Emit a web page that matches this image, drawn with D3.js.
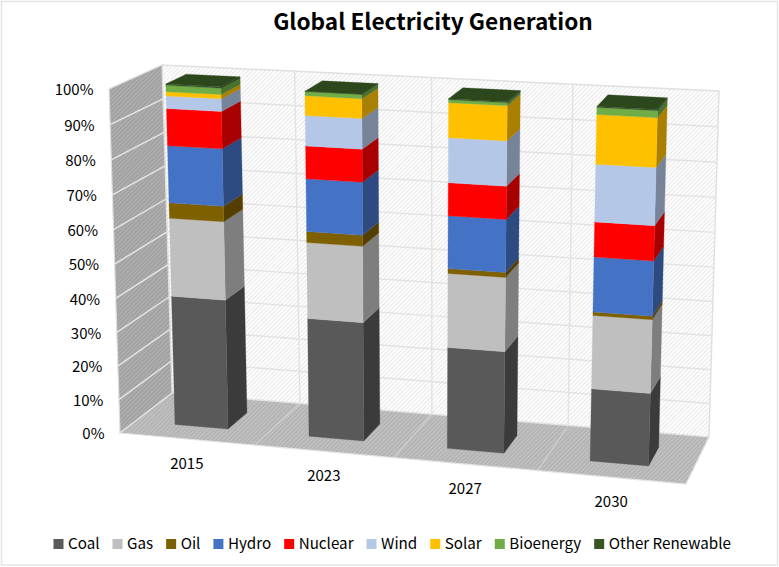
<!DOCTYPE html>
<html>
<head>
<meta charset="utf-8">
<script src="https://cdn.jsdelivr.net/npm/d3@7/dist/d3.min.js"></script>
<style>
  html, body { margin: 0; padding: 0; background: #fff; }
  svg { display: block; }
  text { font-family: "Noto Sans CJK SC", "Noto Sans", sans-serif; fill: #000; }
</style>
</head>
<body>
<svg id="chart" width="779" height="567"></svg>
<script>
// Share of global electricity generation by source, in percent.
const years = ["2015", "2023", "2027", "2030"];
const sources = ["Coal", "Gas", "Oil", "Hydro", "Nuclear", "Wind", "Solar", "Bioenergy", "Other Renewable"];
const coal = [38.5, 34.9, 29.6, 20.9];
const gas = [22.9, 22.1, 21.3, 21.0];
const oil = [4.5, 3.2, 1.4, 1.0];
const hydro = [16.5, 15.1, 15.0, 15.5];
const nuclear = [10.6, 9.3, 9.3, 9.8];
const wind = [3.6, 8.6, 12.6, 16.0];
const solar = [1.2, 5.5, 9.7, 13.6];
const bioenergy = [1.8, 1.2, 0.8, 1.9];
const otherRenewable = [0.4, 0.1, 0.3, 0.3];
const percentTicks = [0, 10, 20, 30, 40, 50, 60, 70, 80, 90, 100];

const seriesValues = [coal, gas, oil, hydro, nuclear, wind, solar, bioenergy, otherRenewable];
const palette = ["#595959", "#bfbfbf", "#7f6000", "#4472c4", "#ff0000", "#b4c7e7", "#ffc000", "#70ad47", "#375623"];

const rows = years.map((year, i) => {
  const row = { year };
  sources.forEach((s, k) => { row[s] = seriesValues[k][i]; });
  return row;
});
const stacked = d3.stack().keys(sources)(rows);

// Corners of the plot box as drawn on the page: [front, back] x [left, right] x [bottom, top].
const box = {
  front: { lb: [120, 433], rb: [686, 484], lt: [109, 89], rt: [697, 121] },
  back:  { lb: [172, 393], rb: [709, 437], lt: [162, 65], rt: [719, 91] }
};

// Logical axes, each mapped onto the unit interval of the box.
const xBand = d3.scaleBand().domain(years).range([0, 1]).paddingInner(0.6).paddingOuter(0.3);
const yScale = d3.scaleLinear().domain([0, 100]).range([0, 1]);
const barDepth = [0.3, 0.7];

// Perspective: equal steps widen towards the right of the box and towards its top.
const foreshorten = (a) => (t) => a * t / (1 + (a - 1) * t);
const warpX = foreshorten(0.938);
const warpY = foreshorten(0.965);

const lerp = (a, b, t) => [a[0] + (b[0] - a[0]) * t, a[1] + (b[1] - a[1]) * t];
function project(u, v, w) {
  const ux = warpX(u), vy = warpY(v);
  const plane = (p) => lerp(lerp(p.lb, p.rb, ux), lerp(p.lt, p.rt, ux), vy);
  return lerp(plane(box.front), plane(box.back), w);
}
const poly = (pts) => "M" + pts.map(p => p[0].toFixed(2) + "," + p[1].toFixed(2)).join("L") + "Z";

const svg = d3.select("#chart");
const defs = svg.append("defs");

// Fine diagonal hatches used on the walls and the floor.
function hatch(id, bg, fg, width) {
  const p = defs.append("pattern").attr("id", id).attr("patternUnits", "userSpaceOnUse")
    .attr("width", 3).attr("height", 3).attr("patternTransform", "rotate(-45)");
  p.append("rect").attr("width", 3).attr("height", 3).attr("fill", bg);
  p.append("rect").attr("width", 3).attr("height", width).attr("fill", fg);
}
hatch("hatchBack", "#ffffff", "#e6e6e6", 1);
hatch("hatchSide", "#a2a2a2", "#b2b2b2", 1);
hatch("hatchFloor", "#b4b4b4", "#c4c4c4", 1);

// Outer frame of the chart area.
svg.append("rect").attr("x", 1.5).attr("y", 1.5).attr("width", 776).attr("height", 563.5)
  .attr("fill", "#fff").attr("stroke", "#e4e4e4").attr("stroke-width", 1.5);

// Walls and floor.
svg.append("path").attr("d", poly([project(0,0,1), project(1,0,1), project(1,1,1), project(0,1,1)]))
  .attr("fill", "url(#hatchBack)").attr("stroke", "#e0e0e0").attr("stroke-width", 1.5);
svg.append("path").attr("d", poly([project(0,0,0), project(0,0,1), project(0,1,1), project(0,1,0)]))
  .attr("fill", "url(#hatchSide)").attr("stroke", "#e0e0e0").attr("stroke-width", 1.2);
svg.append("path").attr("d", poly([project(0,0,0), project(1,0,0), project(1,0,1), project(0,0,1)]))
  .attr("fill", "url(#hatchFloor)").attr("stroke", "#e4e4e4").attr("stroke-width", 1.2);

// Gridlines: percent levels along the side and back walls, category bounds along the back wall and floor.
const grid = svg.append("g").attr("fill", "none");
percentTicks.slice(1, -1).forEach(t => {
  const v = yScale(t);
  grid.append("path").attr("d", d3.line()([project(0,v,1), project(1,v,1)]))
    .attr("stroke", "#e2e2e2").attr("stroke-width", 1.4);
  grid.append("path").attr("d", d3.line()([project(0,v,0), project(0,v,1)]))
    .attr("stroke", "#e6e6e6").attr("stroke-width", 1.4);
});
d3.range(1, years.length).forEach(i => {
  const u = i / years.length;
  grid.append("path").attr("d", d3.line()([project(u,0,1), project(u,1,1)]))
    .attr("stroke", "#e2e2e2").attr("stroke-width", 1.4);
  grid.append("path").attr("d", d3.line()([project(u,0,0), project(u,0,1)]))
    .attr("stroke", "#d0d0d0").attr("stroke-width", 1.2);
});

// Shades of a colour for the faces turned away from the viewer.
const shade = (c, f) => { const r = d3.rgb(c); return d3.rgb(r.r * f, r.g * f, r.b * f).formatHex(); };

// Stacked prisms, one category at a time, bottom segment first.
const barsG = svg.append("g");
years.forEach((year, i) => {
  const u0 = xBand(year), u1 = u0 + xBand.bandwidth();
  const [z0, z1] = barDepth;
  stacked.forEach((layer, k) => {
    const v0 = yScale(layer[i][0]), v1 = yScale(layer[i][1]);
    const g = barsG.append("g").attr("class", "segment");
    g.append("path").attr("d", poly([project(u1,v0,z0), project(u1,v0,z1), project(u1,v1,z1), project(u1,v1,z0)]))
      .attr("fill", shade(palette[k], 0.66)).attr("stroke", shade(palette[k], 0.66)).attr("stroke-width", 0.3);
    g.append("path").attr("d", poly([project(u0,v0,z0), project(u1,v0,z0), project(u1,v1,z0), project(u0,v1,z0)]))
      .attr("fill", palette[k]).attr("stroke", palette[k]).attr("stroke-width", 0.3);
    if (k === stacked.length - 1) {
      g.append("path").attr("d", poly([project(u0,v1,z0), project(u1,v1,z0), project(u1,v1,z1), project(u0,v1,z1)]))
        .attr("fill", shade(palette[k], 0.82)).attr("stroke", shade(palette[k], 0.82)).attr("stroke-width", 0.3);
    }
  });
});

// Percent labels follow the front edge of the side wall.
svg.append("g").selectAll("text").data(percentTicks).join("text")
  .attr("x", d => project(0, yScale(d), 0)[0] - 15.5)
  .attr("y", d => project(0, yScale(d), 0)[1] + 1)
  .attr("dy", "0.35em")
  .attr("text-anchor", "end")
  .attr("font-size", 15)
  .text(d => d + "%");

// Year labels sit below the front edge of the floor.
svg.append("g").selectAll("text").data(years).join("text")
  .attr("x", d => project(xBand(d) + xBand.bandwidth() / 2, 0, 0)[0])
  .attr("y", d => project(xBand(d) + xBand.bandwidth() / 2, 0, 0)[1] + 24.5)
  .attr("dy", "0.35em")
  .attr("text-anchor", "middle")
  .attr("font-size", 15)
  .text(d => d);

// Title.
svg.append("text").attr("x", 433).attr("y", 30).attr("text-anchor", "middle")
  .attr("font-size", 22.6).attr("font-weight", 700).text("Global Electricity Generation");

// Legend, laid out left to right from measured label widths.
const legend = svg.append("g");
let cursor = 53.5;
sources.forEach((s, k) => {
  legend.append("rect").attr("x", cursor).attr("y", 539).attr("width", 10).attr("height", 10).attr("fill", palette[k]);
  const t = legend.append("text").attr("x", cursor + 14.5).attr("y", 544).attr("dy", "0.35em")
    .attr("font-size", 15.2).text(s);
  cursor += 14.5 + t.node().getComputedTextLength() + 13;
});
</script>
</body>
</html>
